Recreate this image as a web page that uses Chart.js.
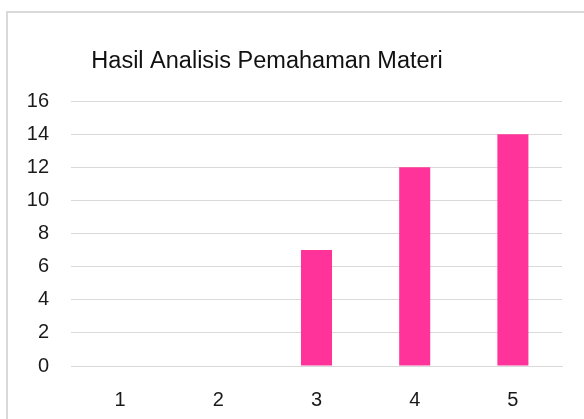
<!DOCTYPE html>
<html>
<head>
<meta charset="utf-8">
<script src="https://cdn.jsdelivr.net/npm/chart.js@4"></script>
<style>
  html, body { margin: 0; padding: 0; background: #fff; }
  #wrap { position: relative; width: 584px; height: 419px; overflow: hidden; }
  #frame { position: absolute; left: 6px; top: 11px; width: 640px; height: 460px;
           border: 2px solid #d9d9d9; box-sizing: border-box; }
  canvas { position: absolute; left: 0; top: 0; }
</style>
</head>
<body>
<div id="wrap">
  <div id="frame"></div>
  <canvas id="barChart" width="584" height="419"></canvas>
</div>
<script>
// Data
const categories = ['1', '2', '3', '4', '5'];
const jumlah = [0, 0, 7, 12, 14];
const yTicks = [0, 2, 4, 6, 8, 10, 12, 14, 16];
const chartTitle = 'Hasil Analisis Pemahaman Materi';

Chart.defaults.font.family = "'Liberation Sans', Arial, sans-serif";
Chart.defaults.color = '#1a1a1a';

// title drawn by hand so it can sit where Excel put it
const titlePlugin = {
    id: 'titlePlugin',
    afterDraw(chart) {
        const ctx = chart.ctx;
        ctx.save();
        ctx.font = "23.5px 'Liberation Sans', Arial, sans-serif";
        ctx.fillStyle = '#111';
        ctx.textAlign = 'center';
        ctx.textBaseline = 'alphabetic';
        ctx.fillText(chartTitle, 267, 68);
        ctx.restore();
    }
};

let barCanvas = document.getElementById('barChart');
let barData = {
    labels: categories,
    datasets: [{
        data: jumlah,
        backgroundColor: '#ff3399',
        borderWidth: 0,
        categoryPercentage: 1,
        barPercentage: 0.316
    }]
};
let barOptions = {
    responsive: false,
    animation: false,
    layout: {
        padding: { top: 101, right: 22, bottom: 0, left: 0 }
    },
    plugins: {
        legend: { display: false },
        tooltip: { enabled: false }
    },
    scales: {
        x: {
            grid: { display: false, drawTicks: false },
            border: { display: true, color: '#d9d9d9', width: 1 },
            ticks: { font: { size: 20 }, padding: 22, color: '#1a1a1a' },
            afterFit: (scale) => { scale.height = 53; }
        },
        y: {
            min: 0,
            max: 16,
            afterBuildTicks: (scale) => { scale.ticks = yTicks.map(v => ({ value: v })); },
            grid: { color: '#d9d9d9', lineWidth: 1, drawTicks: false },
            border: { display: false },
            ticks: { font: { size: 20 }, padding: 22, color: '#1a1a1a' },
            afterFit: (scale) => { scale.width = 71; }
        }
    }
};
let barChart = new Chart(barCanvas, {
    type: 'bar',
    data: barData,
    options: barOptions,
    plugins: [titlePlugin]
});
</script>
</body>
</html>
